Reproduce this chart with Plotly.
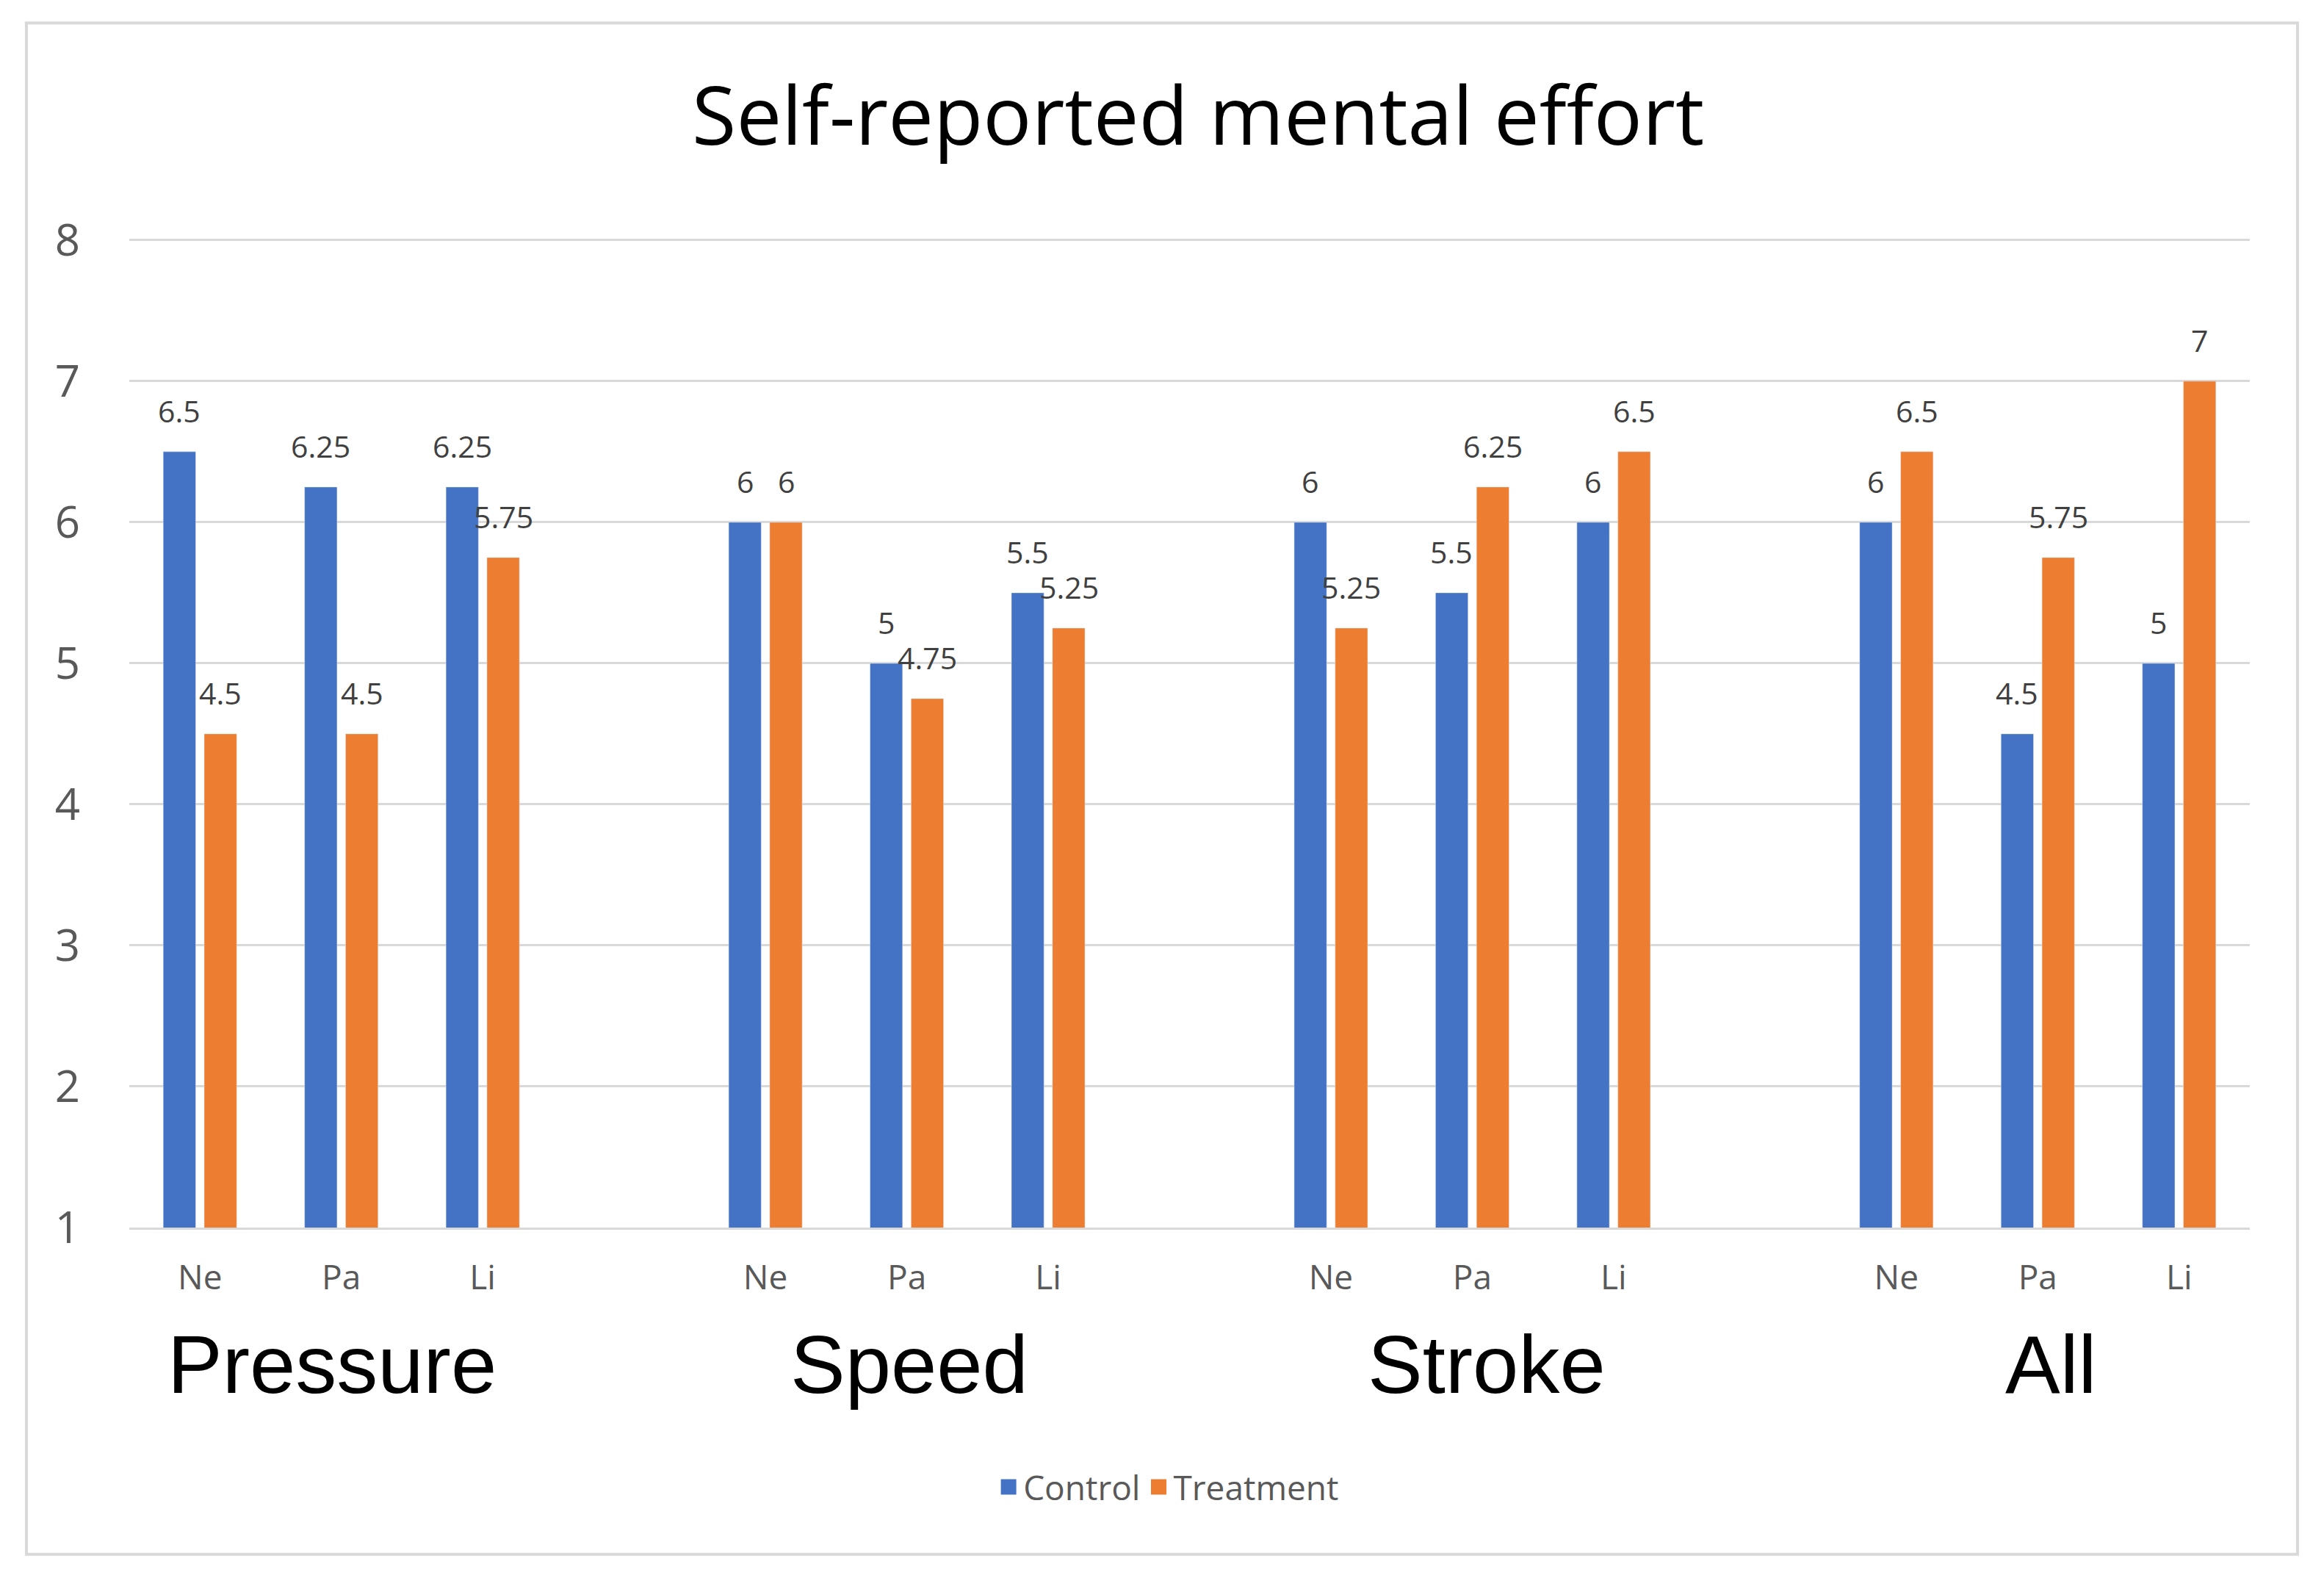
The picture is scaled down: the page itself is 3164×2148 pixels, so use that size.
import plotly.graph_objects as go

groups = ["Pressure", "Speed", "Stroke", "All"]
conditions = ["Ne", "Pa", "Li"]
control = [6.5, 6.25, 6.25, 6, 5, 5.5, 6, 5.5, 6, 6, 4.5, 5]
treatment = [4.5, 4.5, 5.75, 6, 4.75, 5.25, 5.25, 6.25, 6.5, 6.5, 5.75, 7]

BLUE = "#4472C4"
ORANGE = "#ED7D31"
GREY_TEXT = "#595959"
GRID = "#D9D9D9"

# one category per (group, condition), with an empty slot between groups
keys = [f"{g}|{c}" for g in groups for c in conditions]
tick_text = [c for g in groups for c in conditions]
order = []
for i, g in enumerate(groups):
    order += [f"{g}|{c}" for c in conditions]
    if i < len(groups) - 1:
        order.append(" " * (i + 1))

fig = go.Figure()
fig.add_trace(go.Bar(x=keys, y=control, name="Control", marker_color=BLUE,
                     width=0.23, offset=-0.26, showlegend=False))
fig.add_trace(go.Bar(x=keys, y=treatment, name="Treatment", marker_color=ORANGE,
                     width=0.23, offset=0.03, showlegend=False))

# legend entries with bigger square swatches than the bar icon
for name, color in [("Control", BLUE), ("Treatment", ORANGE)]:
    fig.add_trace(go.Scatter(x=[None], y=[None], mode="markers", name=name,
                             marker=dict(symbol="square", size=16, color=color,
                                         line=dict(color=color, width=5))))

# data labels above each bar
for vals, shift in [(control, -28), (treatment, 28)]:
    for k, v in zip(keys, vals):
        fig.add_annotation(x=k, y=v, text=f"{v:g}", showarrow=False,
                           xshift=shift, yshift=56, yanchor="middle",
                           font=dict(family="Open Sans", size=41, color="#404040"))

# big group labels under the axis
group_x = [0.0957, 0.368, 0.64, 0.906]
for g, gx in zip(groups, group_x):
    fig.add_annotation(x=gx, y=-0.138, xref="paper", yref="paper", text=g,
                       showarrow=False, xanchor="center", yanchor="middle",
                       font=dict(family="Liberation Sans", size=112, color="black"))

# chart border
fig.add_shape(type="rect", xref="paper", yref="paper",
              x0=-0.0485, x1=1.0225, y0=-0.33, y1=1.2165,
              line=dict(color=GRID, width=4), fillcolor="rgba(0,0,0,0)")

fig.update_layout(
    width=3164, height=2148,
    margin=dict(l=168, r=109, t=315, b=485),
    paper_bgcolor="white", plot_bgcolor="white",
    title=dict(text="Self-reported mental effort", x=0.513, xanchor="center",
               y=0.93, yanchor="middle",
               font=dict(family="Open Sans", size=110, color="black")),
    showlegend=True,
    legend=dict(orientation="h", x=0.49, xanchor="center", y=-0.262, yanchor="middle",
                font=dict(family="Open Sans", size=46, color=GREY_TEXT)),
)
fig.update_xaxes(type="category", categoryorder="array", categoryarray=order,
                 range=[-0.5, len(order) - 0.5],
                 tickvals=keys, ticktext=tick_text, showgrid=False,
                 showline=True, linecolor=GRID, linewidth=3,
                 ticks="", ticklabelstandoff=26,
                 tickfont=dict(family="Open Sans", size=46, color=GREY_TEXT))
fig.update_yaxes(range=[1, 8.02], tickvals=[1, 2, 3, 4, 5, 6, 7, 8],
                 showgrid=True, gridcolor=GRID, gridwidth=3,
                 zeroline=False, showline=False, ticks="", ticklabelstandoff=66,
                 tickfont=dict(family="Open Sans", size=60, color=GREY_TEXT))

fig.write_html("out.html")
